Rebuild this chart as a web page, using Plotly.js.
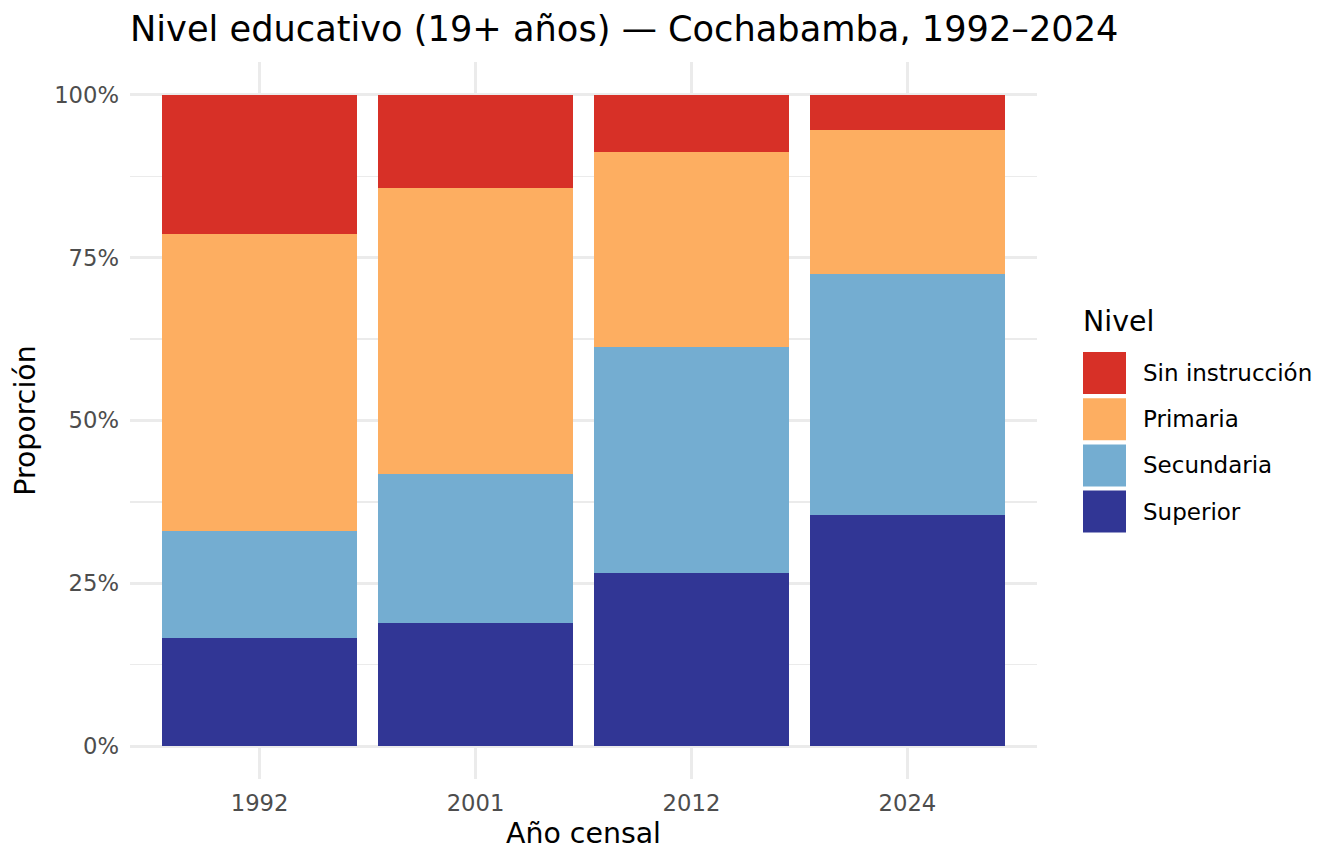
<!DOCTYPE html>
<html>
<head>
<meta charset="utf-8">
<script src="https://cdn.plot.ly/plotly-3.0.1.min.js"></script>
<style>
  html, body { margin: 0; padding: 0; background: #ffffff; }
  #chart { width: 1344px; height: 864px; }
</style>
</head>
<body>
<div id="chart"></div>
<script>
// ---- Data (percent of population 19+ by education level) ----
const years = ['1992', '2001', '2012', '2024'];
const superior = [16.7, 19.0, 26.6, 35.5];
const secundaria = [16.3, 22.8, 34.7, 36.9];
const primaria = [45.6, 43.8, 29.9, 22.2];
const sinInstruccion = [21.4, 14.4, 8.8, 5.4];
const yTickVals = [0, 25, 50, 75, 100];
const yTickText = ['0%', '25%', '50%', '75%', '100%'];

// Legend order (top to bottom) and stack order (bottom to top)
const legendLevels = ['Sin instrucción', 'Primaria', 'Secundaria', 'Superior'];
const stackLevels = ['Superior', 'Secundaria', 'Primaria', 'Sin instrucción'];
const seriesByLevel = {
  'Superior': superior,
  'Secundaria': secundaria,
  'Primaria': primaria,
  'Sin instrucción': sinInstruccion
};

// ---- Styles ----
const colors = {
  'Sin instrucción': '#D73027',
  'Primaria': '#FDAE61',
  'Secundaria': '#74ADD1',
  'Superior': '#313695'
};
const FONT = 'DejaVu Sans, Verdana, sans-serif';
const W = 1344, H = 864;
const M = { l: 130, r: 307, t: 62, b: 85 };
const plotW = W - M.l - M.r, plotH = H - M.t - M.b;
const px2x = px => (px - M.l) / plotW;
const py2y = py => (H - M.b - py) / plotH;

const traces = stackLevels.map(lv => ({
  type: 'bar',
  name: lv,
  x: years,
  y: seriesByLevel[lv],
  marker: { color: colors[lv], line: { width: 0 } },
  showlegend: false,
  hoverinfo: 'x+y+name'
}));

// Custom ggplot-like legend
const shapes = [];
const annotations = [];
const keyX0 = 1083, keyW = 43, keyH = 42, keyGap = 4.2, keyTop = 352;
legendLevels.forEach((lv, i) => {
  const top = keyTop + i * (keyH + keyGap);
  shapes.push({
    type: 'rect', xref: 'paper', yref: 'paper',
    x0: px2x(keyX0), x1: px2x(keyX0 + keyW),
    y0: py2y(top + keyH), y1: py2y(top),
    fillcolor: colors[lv], line: { width: 0 }
  });
  annotations.push({
    xref: 'paper', yref: 'paper',
    x: px2x(1141), y: py2y(top + keyH / 2),
    xanchor: 'left', yanchor: 'middle',
    text: lv, showarrow: false,
    font: { family: FONT, size: 23, color: '#000000' }
  });
});
annotations.push({
  xref: 'paper', yref: 'paper',
  x: px2x(1081), y: py2y(322),
  xanchor: 'left', yanchor: 'middle',
  text: 'Nivel', showarrow: false,
  font: { family: FONT, size: 28.4, color: '#000000' }
});

const layout = {
  width: W, height: H,
  margin: M,
  paper_bgcolor: '#ffffff',
  plot_bgcolor: '#ffffff',
  font: { family: FONT, color: '#000000' },
  barmode: 'stack',
  bargap: 0.1,
  title: {
    text: 'Nivel educativo (19+ años) — Cochabamba, 1992–2024',
    font: { family: FONT, size: 35.2, color: '#000000' },
    xref: 'paper', x: 0, xanchor: 'left',
    yref: 'container', y: 1 - 29 / H, yanchor: 'middle'
  },
  xaxis: {
    type: 'category',
    range: [-0.6, 3.6],
    showgrid: true, gridcolor: '#EBEBEB', gridwidth: 2.2,
    zeroline: false, showline: false, ticks: '',
    tickfont: { family: FONT, size: 22.7, color: '#4D4D4D' },
    ticklabelstandoff: 8,
    title: { text: 'Año censal', font: { family: FONT, size: 28.4, color: '#000000' }, standoff: 8 }
  },
  yaxis: {
    range: [-5, 105],
    tickmode: 'array', tickvals: yTickVals, ticktext: yTickText,
    showgrid: true, gridcolor: '#EBEBEB', gridwidth: 2.2,
    minor: { tickmode: 'array', tickvals: [12.5, 37.5, 62.5, 87.5], showgrid: true, gridcolor: '#EBEBEB', gridwidth: 1.1, ticks: '' },
    zeroline: false, showline: false, ticks: '',
    tickfont: { family: FONT, size: 22.7, color: '#4D4D4D' },
    ticklabelstandoff: 10,
    title: { text: 'Proporción', font: { family: FONT, size: 28.4, color: '#000000' }, standoff: 10 }
  },
  shapes: shapes,
  annotations: annotations
};

Plotly.newPlot('chart', traces, layout, { displayModeBar: false, staticPlot: true });
</script>
</body>
</html>
